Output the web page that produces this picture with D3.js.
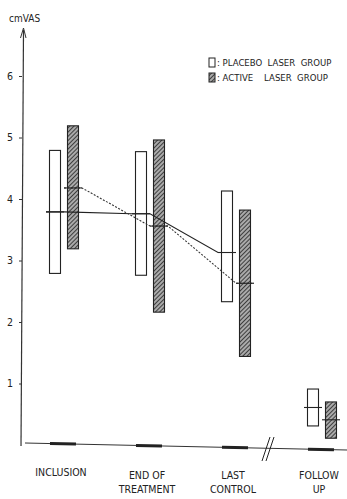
<!DOCTYPE html>
<html>
<head>
<meta charset="utf-8">
<script src="https://cdn.jsdelivr.net/npm/d3@7"></script>
<style>
  body { margin: 0; background: #fff; }
  svg text { font-family: "Liberation Sans Narrow", "DejaVu Sans Condensed", sans-serif; fill: #222; }
</style>
</head>
<body>
<svg width="347" height="499"></svg>
<script>
// values (cm on the visual analogue scale)
var categories = ["INCLUSION", "END OF|TREATMENT", "LAST|CONTROL", "FOLLOW|UP"];
var placeboMean = [3.79, 3.76, 3.13, 0.61];
var placeboLow = [2.79, 2.76, 2.33, 0.31];
var placeboHigh = [4.79, 4.77, 4.13, 0.91];
var activeMean = [4.18, 3.56, 2.63, 0.41];
var activeLow = [3.19, 2.16, 1.44, 0.11];
var activeHigh = [5.19, 4.96, 3.82, 0.70];
var yTicks = [1, 2, 3, 4, 5, 6];
var legendLabels = [": PLACEBO  LASER  GROUP", ": ACTIVE    LASER  GROUP"];

var svg = d3.select("svg");

var y = d3.scaleLinear().domain([0, 6]).range([445, 76]);
var x = d3.scalePoint().domain(categories).range([64, 322]);
var off = 9, bw = 11;

var defs = svg.append("defs");
var pat = defs.append("pattern")
    .attr("id", "hatch")
    .attr("patternUnits", "userSpaceOnUse")
    .attr("width", 3).attr("height", 3)
    .attr("patternTransform", "rotate(45)");
pat.append("rect").attr("width", 3).attr("height", 3).attr("fill", "#aaa");
pat.append("line").attr("x1", 0).attr("y1", 0).attr("x2", 0).attr("y2", 3)
    .attr("stroke", "#2a2a2a").attr("stroke-width", 1.7);

// y axis
var yAxis = svg.append("g")
    .attr("transform", "translate(22,0)")
    .call(d3.axisLeft(y).tickValues(yTicks).tickFormat(d3.format("d"))
        .tickSize(3).tickPadding(6).tickSizeOuter(0));
yAxis.select(".domain").remove();
yAxis.selectAll("line").attr("stroke", "#333");
yAxis.selectAll("text").style("font-size", "10.5px").style("font-family", "Liberation Sans Narrow, DejaVu Sans Condensed, sans-serif").attr("fill", "#222");
svg.append("line")
    .attr("x1", 21).attr("y1", y(0) + 1)
    .attr("x2", 23.5).attr("y2", 30)
    .attr("stroke", "#333").attr("stroke-width", 1.2);
svg.append("path")
    .attr("d", "M20.5,38 L23.5,28 L26,38")
    .attr("fill", "none").attr("stroke", "#333").attr("stroke-width", 1);
svg.append("text").attr("x", 9).attr("y", 22).style("font-size", "10px").text("cmVAS");

// x axis, slightly sloped as in the scan
svg.append("line")
    .attr("x1", 25).attr("y1", y(0) - 2)
    .attr("x2", 347).attr("y2", y(0) + 5)
    .attr("stroke", "#333").attr("stroke-width", 1);
function baseY(px) { return y(0) - 2 + (px - 25) * 7 / 322; }
svg.append("g").selectAll("line")
    .data(categories)
    .enter().append("line")
    .attr("x1", function (d) { return x(d) - 14; })
    .attr("x2", function (d) { return x(d) + 12; })
    .attr("y1", function (d) { return baseY(x(d) - 14); })
    .attr("y2", function (d) { return baseY(x(d) + 12); })
    .attr("stroke", "#222").attr("stroke-width", 3);

// axis break
var bx = (x(categories[2]) + x(categories[3])) / 2 - 13;
[0, 4].forEach(function (dx) {
    svg.append("line")
        .attr("x1", bx + dx - 4).attr("y1", y(0) + 16)
        .attr("x2", bx + dx + 4).attr("y2", y(0) - 8)
        .attr("stroke", "#222").attr("stroke-width", 1);
});

// category labels
var lab = svg.append("g").selectAll("text")
    .data(categories)
    .enter().append("text")
    .attr("text-anchor", "middle")
    .attr("x", function (d) { return x(d) - 3; })
    .attr("y", function (d, i) { return i == 0 ? 476 : 479; })
    .style("font-size", "10.5px");
lab.each(function (d) {
    var parts = d.split("|");
    var t = d3.select(this);
    parts.forEach(function (p, k) {
        t.append("tspan").attr("x", t.attr("x")).attr("dy", k == 0 ? 0 : 14).text(p);
    });
});

// bars
function drawBars(low, high, dx, fill) {
    svg.append("g").selectAll("rect")
        .data(categories)
        .enter().append("rect")
        .attr("x", function (d) { return x(d) + dx - bw / 2; })
        .attr("width", bw)
        .attr("y", function (d, i) { return y(high[i]); })
        .attr("height", function (d, i) { return y(low[i]) - y(high[i]); })
        .attr("fill", fill)
        .attr("stroke", "#222").attr("stroke-width", 1.1);
}
drawBars(placeboLow, placeboHigh, -off, "#fff");
drawBars(activeLow, activeHigh, off, "url(#hatch)");

// mean lines
function meanPath(mean, dx) {
    var pts = [];
    for (var i = 0; i < 3; i++) {
        pts.push([x(categories[i]) + dx - 9, y(mean[i])]);
        pts.push([x(categories[i]) + dx + 9, y(mean[i])]);
    }
    return d3.line()(pts);
}
svg.append("path").attr("d", meanPath(placeboMean, -off))
    .attr("fill", "none").attr("stroke", "#222").attr("stroke-width", 1.1);
svg.append("path").attr("d", meanPath(activeMean, off))
    .attr("fill", "none").attr("stroke", "#333").attr("stroke-width", 1.1)
    .attr("stroke-dasharray", "2,1.5");

function meanTicks(mean, dx) {
    svg.append("g").selectAll("line")
        .data(categories)
        .enter().append("line")
        .attr("x1", function (d) { return x(d) + dx - 9; })
        .attr("x2", function (d) { return x(d) + dx + 9; })
        .attr("y1", function (d, i) { return y(mean[i]); })
        .attr("y2", function (d, i) { return y(mean[i]); })
        .attr("stroke", "#222").attr("stroke-width", 1.1);
}
meanTicks(placeboMean, -off);
meanTicks(activeMean, off);

// legend
var leg = svg.append("g").attr("transform", "translate(209,58)");
leg.selectAll("rect")
    .data(legendLabels)
    .enter().append("rect")
    .attr("x", 0).attr("y", function (d, i) { return i * 15; })
    .attr("width", 6).attr("height", 9)
    .attr("fill", function (d, i) { return i == 0 ? "#fff" : "url(#hatch)"; })
    .attr("stroke", "#222").attr("stroke-width", 1);
leg.selectAll("text")
    .data(legendLabels)
    .enter().append("text")
    .attr("x", 8).attr("y", function (d, i) { return i * 15 + 8; })
    .attr("xml:space", "preserve")
    .style("white-space", "pre")
    .style("font-size", "9.5px")
    .text(function (d) { return d; });
</script>
</body>
</html>
